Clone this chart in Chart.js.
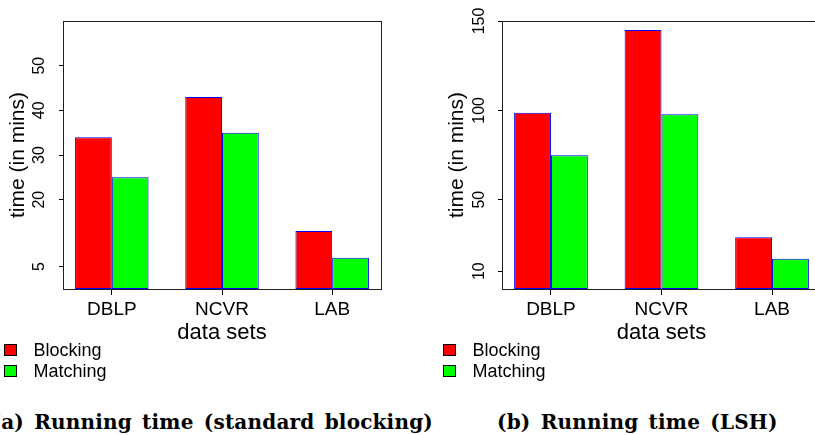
<!DOCTYPE html>
<html>
<head>
<meta charset="utf-8">
<script src="https://cdn.jsdelivr.net/npm/chart.js@4.4.0/dist/chart.umd.min.js"></script>
<style>
  html, body { margin: 0; padding: 0; background: #fff; }
  body { width: 815px; height: 435px; position: relative; overflow: hidden; font-family: "Liberation Sans", Arial, sans-serif; }
  canvas { position: absolute; top: 0; }
  #std { left: 0; }
  #lsh { left: 400px; }
  .legend { position: absolute; top: 339.5px; }
  .legend .row { display: flex; align-items: center; height: 21px; font-size: 18px; line-height: 21px; color: #000; }
  .legend .sw { width: 11px; height: 10px; border: 1px solid #000; margin-right: 16.5px; }
  .caption { position: absolute; top: 411px; font-family: "DejaVu Serif", serif; font-weight: bold; font-size: 20px; line-height: 22px; letter-spacing: 0.2px; word-spacing: 3px; white-space: nowrap; color: #000; }
  #cap-a { right: 382px; }
  #cap-b { left: 497px; }
</style>
</head>
<body>
<canvas id="std" width="400" height="344"></canvas>
<canvas id="lsh" width="440" height="344"></canvas>
<div class="legend" id="leg-std" style="left:4px"></div>
<div class="legend" id="leg-lsh" style="left:443px"></div>
<div class="caption" id="cap-a">(a) Running time (standard blocking)</div>
<div class="caption" id="cap-b">(b) Running time (LSH)</div>
<script>
var categories = ['DBLP', 'NCVR', 'LAB'];
var seriesNames = ['Blocking', 'Matching'];
var seriesColors = ['#ff0000', '#00ff00'];

// standard blocking, minutes
var stdBlocking = [34, 43, 13];
var stdMatching = [25, 35, 7];
var stdTicks = [5, 20, 30, 40, 50];
var stdMax = 60;

// LSH, minutes
var lshBlocking = [98.7, 144.9, 28.9];
var lshMatching = [74.8, 97.8, 17];
var lshTicks = [10, 50, 100, 150];
var lshMax = 150;

Chart.defaults.font.family = '"Liberation Sans", Arial, sans-serif';
Chart.defaults.color = '#000';

var framePlugin = {
    id: 'frame',
    afterDatasetsDraw: function(chart) {
        var a = chart.chartArea;
        var ctx = chart.ctx;
        ctx.save();
        ctx.strokeStyle = '#222';
        ctx.lineWidth = 1;
        ctx.strokeRect(Math.round(a.left) + 0.5, Math.round(a.top) + 0.5,
            Math.round(a.right - a.left), Math.round(a.bottom - a.top));
        ctx.restore();
    }
};

function bar_data(blocking, matching) {
    var sets = [blocking, matching];
    var datasets = [];
    for (var s = 0; s < sets.length; s++) {
        datasets.push({
            label: seriesNames[s],
            data: sets[s].map(function(v, i) { return {x: i + 1, y: v}; }),
            backgroundColor: seriesColors[s],
            borderColor: '#0000ff',
            borderWidth: 1,
            borderSkipped: false
        });
    }
    return {datasets: datasets};
}

function draw_bars(EleID, data, yTicks, yMax, padLeft, tickPad) {
    var ctx = document.getElementById(EleID).getContext('2d');
    var config = {
        type: 'bar',
        data: data,
        plugins: [framePlugin],
        options: {
            responsive: false,
            animation: false,
            categoryPercentage: 0.667,
            barPercentage: 1,
            layout: { padding: { left: padLeft, top: 21, right: 19, bottom: 0 } },
            plugins: { legend: { display: false }, tooltip: { enabled: false } },
            scales: {
                x: {
                    type: 'linear',
                    min: 0.557,
                    max: 3.443,
                    offset: false,
                    afterBuildTicks: function(scale) {
                        scale.ticks = categories.map(function(c, i) { return {value: i + 1}; });
                    },
                    afterFit: function(scale) { scale.height = 55; },
                    ticks: {
                        font: { size: 19 },
                        padding: 3,
                        maxRotation: 0,
                        callback: function(value) { return categories[value - 1]; }
                    },
                    grid: { display: true, drawOnChartArea: false, offset: false, tickLength: 6, color: '#000' },
                    border: { display: false },
                    title: { display: true, text: 'data sets', font: { size: 22, lineHeight: 1 }, padding: 0 }
                },
                y: {
                    min: 0,
                    max: yMax,
                    afterBuildTicks: function(scale) {
                        scale.ticks = yTicks.map(function(v) { return {value: v}; });
                    },
                    afterFit: function(scale) { scale.width = 63; },
                    ticks: {
                        font: { size: 16 },
                        minRotation: 90,
                        maxRotation: 90,
                        crossAlign: 'center',
                        padding: tickPad
                    },
                    grid: { display: true, drawOnChartArea: false, tickLength: 4, color: '#000' },
                    border: { display: false },
                    title: { display: true, text: 'time (in mins)', font: { size: 21, lineHeight: 1 }, padding: { top: 8, bottom: 0 } }
                }
            }
        }
    };
    return new Chart(ctx, config);
}

function build_legend(EleID) {
    var box = document.getElementById(EleID);
    for (var s = 0; s < seriesNames.length; s++) {
        var row = document.createElement('div');
        row.className = 'row';
        var sw = document.createElement('span');
        sw.className = 'sw';
        sw.style.background = seriesColors[s];
        var txt = document.createElement('span');
        txt.textContent = seriesNames[s];
        row.appendChild(sw);
        row.appendChild(txt);
        box.appendChild(row);
    }
}

draw_bars('std', bar_data(stdBlocking, stdMatching), stdTicks, stdMax, 0, 10.9);
draw_bars('lsh', bar_data(lshBlocking, lshMatching), lshTicks, lshMax, 39, 5.2);
build_legend('leg-std');
build_legend('leg-lsh');
</script>
</body>
</html>
